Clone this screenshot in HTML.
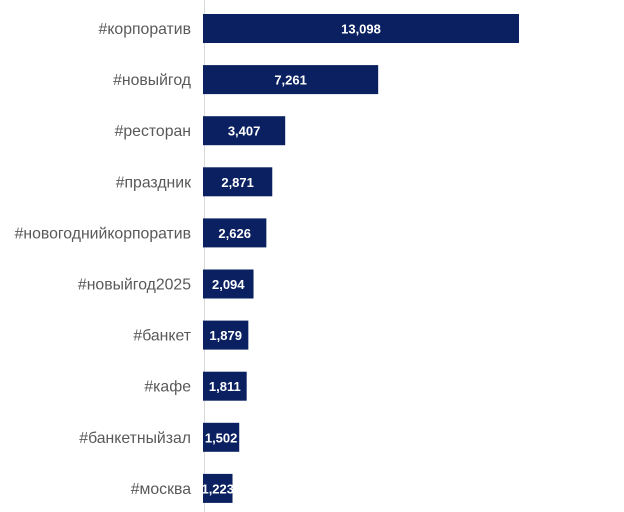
<!DOCTYPE html>
<html><head><meta charset="utf-8"><style>
body{margin:0;background:#fff;}
svg{display:block}
</style></head><body>
<svg width="624" height="512" xmlns="http://www.w3.org/2000/svg" font-family="Liberation Sans, Arial, sans-serif">
<line x1="204.5" y1="0" x2="204.5" y2="512" stroke="#d9d9d9" stroke-width="1"/>
<g id="bars"></g>
</svg>
<script>
const d=[["#корпоратив",13098],["#новыйгод",7261],["#ресторан",3407],["#праздник",2871],["#новогоднийкорпоратив",2626],["#новыйгод2025",2094],["#банкет",1879],["#кафе",1811],["#банкетныйзал",1502],["#москва",1223]];
const g=document.getElementById('bars');let h='';
d.forEach((r,i)=>{const cy=28.5+i*51.1;const w=r[1]*316/13098;
h+=`<rect x="203" y="${cy-14.5}" width="${w}" height="29" fill="#0a2060"/>`;
h+=`<text x="191" y="${cy+5.5}" text-anchor="end" font-size="15.8" fill="#595959">${r[0]}</text>`;
h+=`<text x="${203+w/2}" y="${cy+5}" text-anchor="middle" font-size="13" font-weight="bold" fill="#fff">${r[1].toLocaleString('en-US')}</text>`;});
g.innerHTML=h;
</script>
</body></html>
